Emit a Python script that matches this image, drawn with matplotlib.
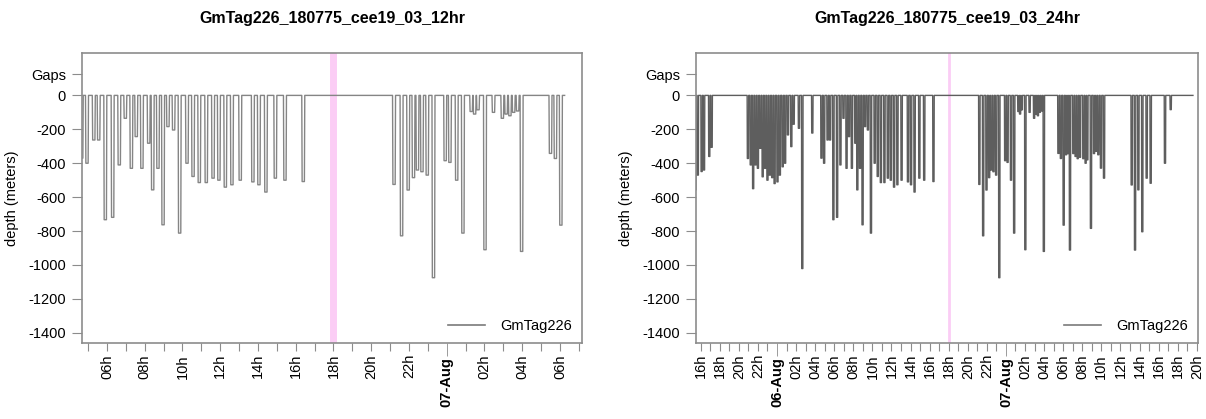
import numpy as np
import matplotlib.pyplot as plt
from matplotlib.lines import Line2D

plt.rcParams['font.family'] = ['Liberation Sans', 'DejaVu Sans']

tag = 'GmTag226'
titles = ['GmTag226_180775_cee19_03_12hr', 'GmTag226_180775_cee19_03_24hr']

# dive times (hours after 06-Aug 00:00) and max depth of each dive (m)
dive_t = [-8.55, -8.3, -7.9, -7.65, -7.1, -6.85,
          -3.05, -2.75, -2.5, -2.25, -2.0, -1.75, -1.5, -1.25, -1.0, -0.75,
          -0.5, -0.25, 0.05, 0.3, 0.6, 0.85, 1.15, 1.5, 1.75, 2.3, 2.65, 3.7,
          4.66, 4.94, 5.30, 5.56, 5.91, 6.30, 6.65, 6.97, 7.29, 7.55, 7.85,
          8.21, 8.42, 8.70, 8.97, 9.23, 9.53, 9.85, 10.24, 10.56, 10.89, 11.26,
          11.62, 11.93, 12.27, 12.62, 13.06, 13.73, 14.05, 14.42, 14.92, 15.43,
          16.40,
          21.21, 21.61, 21.96, 22.24, 22.45, 22.69, 22.97, 23.30, 23.92, 24.17,
          24.53, 24.86, 25.30, 25.48, 25.66, 26.03, 26.48, 26.95, 27.15, 27.35,
          27.55, 27.76, 27.97, 29.50, 29.76, 30.05,
          30.30, 30.50, 30.71, 31.06, 31.30, 31.52, 31.76, 32.11, 32.35, 32.53,
          32.91, 33.23, 33.45, 33.68, 33.96, 34.28,
          37.18, 37.53, 37.88, 38.29, 38.75, 39.17, 40.67, 41.27]
dive_depth = [-557, -470, -449, -440, -360, -306,
              -372, -410, -550, -410, -430, -312, -480, -430, -500, -470,
              -485, -520, -510, -470, -421, -400, -233, -302, -170, -194, -1021, -222,
              -370, -400, -263, -263, -733, -719, -410, -135, -430, -243, -430,
              -282, -557, -430, -763, -184, -204, -812, -400, -478, -514, -514,
              -488, -500, -541, -527, -500, -510, -527, -570, -488, -500,
              -508,
              -525, -828, -558, -485, -440, -450, -470, -1075, -385, -395,
              -500, -812, -95, -110, -85, -910, -100, -135, -110, -120,
              -100, -92, -920, -342, -372, -765,
              -350, -343, -912, -343, -360, -373, -365, -373, -400, -380,
              -784, -343, -330, -350, -429, -488,
              -528, -912, -557, -804, -488, -518, -400, -84]

event_t = 18.0
record_start = -8.9
record_ends = [30.25, 43.6]  # 12hr series stops earlier
xlims = [(4.675, 31.17), (-8.49, 44.13)]
tick_hours = [(5, 31), (-8, 44)]
event_lw = [5.0, 2.0]
line_cols = ['#858585', '#5e5e5e']


def dive_line(t_end):
    xs, ys = [record_start], [0]
    for t, d in zip(dive_t, dive_depth):
        if t > t_end:
            break
        xs += [t - 0.08, t - 0.06, t + 0.06, t + 0.08]
        ys += [0, d, d, 0]
    xs.append(t_end)
    ys.append(0)
    return xs, ys


fig = plt.figure(figsize=(12.06, 4.19), dpi=100)
rects = [[82 / 1206, 76 / 419, 500 / 1206, 290 / 419],
         [696 / 1206, 76 / 419, 502 / 1206, 290 / 419]]

box_col = '#8c8c8c'

for i in range(2):
    ax = fig.add_axes(rects[i])
    xs, ys = dive_line(record_ends[i])
    ax.plot(xs, ys, color=line_cols[i], lw=1.0)
    ax.axvline(event_t, color='#fbcdf5', lw=event_lw[i], zorder=0)
    ax.set_xlim(xlims[i])
    ax.set_ylim(-1460, 250)

    hours = np.arange(tick_hours[i][0], tick_hours[i][1] + 1)
    major = [h for h in hours if h % 24]
    minor = [h for h in hours if h % 24 == 0]
    ax.set_xticks(major, [f'{h % 24:02d}h' if h % 2 == 0 else '' for h in major])
    ax.set_xticks(minor, [f'{6 + h // 24:02d}-Aug' for h in minor], minor=True)
    ax.tick_params(axis='x', which='major', rotation=90, length=6, pad=2,
                   labelsize=10.5, color=box_col)
    ax.tick_params(axis='x', which='minor', rotation=90, length=9.5, pad=0.5,
                   labelsize=10.5, color=box_col)
    for lbl in ax.get_xticklabels(minor=True):
        lbl.set_fontweight('bold')

    yt = [125] + list(range(0, -1401, -200))
    ax.set_yticks(yt, ['Gaps'] + [str(v) for v in yt[1:]])
    ax.tick_params(axis='y', length=7, pad=4.5, labelsize=10.5, color=box_col)

    for s in ax.spines.values():
        s.set_color(box_col)
        s.set_linewidth(1.2)

    ax.set_ylabel('depth (meters)', fontsize=10.5)
    ax.yaxis.set_label_coords(-63 / rects[i][2] / 1206, 0.5)

    ax.legend(handles=[Line2D([], [], color='#7a7a7a', lw=1.2)], labels=[tag],
              loc='lower right', frameon=False, fontsize=10.5,
              handlelength=2.6, handletextpad=1.0, borderaxespad=0.3)

    fig.text(rects[i][0] + rects[i][2] / 2, 1 - 18 / 419, titles[i],
             ha='center', va='center', fontweight='bold', fontsize=11.5)

fig.savefig('out.png', dpi=100)
